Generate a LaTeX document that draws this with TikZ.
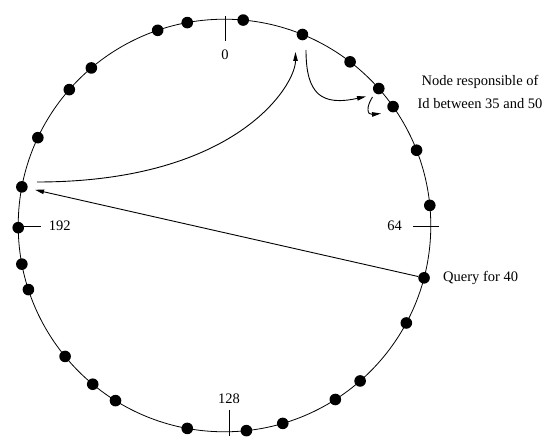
\documentclass[tikz,border=0pt]{standalone}
\usepackage{fontspec}
\setmainfont{Liberation Serif}
\usetikzlibrary{arrows.meta}
\begin{document}
\begin{tikzpicture}[x=1pt,y=-1pt,
  dot/.style={circle,fill=black,inner sep=0pt,minimum size=11.6pt},
  lbl/.style={font=\fontsize{14.5}{17}\selectfont,inner sep=0pt,anchor=base},
  arr/.style={line width=0.9pt,-{Triangle[length=9pt,width=4.5pt]}},
  tickline/.style={line width=1pt}]
\useasboundingbox (0,0) rectangle (551,441);
\coordinate (c) at (224.5,225.5);
\draw[line width=0.8pt] (c) circle[radius=206.3pt];
\foreach \a [count=\i] in {100.4,108.9,84.8,67.8,52.5,41.6,35.2,21.4,5.6,-14.7,-28.2,-48.9,-57.5,-73.6,-83.9,-100.4,-121.9,-129.7,-140.6,-161.9,-169.2,-179.4,169.2,154.8,138.8,130.2}
  \path (c) ++(\a:206.3pt) node[dot] (d\i) {};
% ticks
\draw[tickline] (225,16) -- (225,41);
\draw[tickline] (413,226) -- (439,226);
\draw[tickline] (229,410) -- (229,436);
\draw[tickline] (18,226) -- (41,226);
% tick labels
\node[lbl] (l0) at (225,60) {0};
\node[lbl] (l64) at (394.5,230.5) {64};
\node[lbl] (l128) at (229,403.3) {128};
\node[lbl] (l192) at (59.7,230.5) {192};
% texts
\node[lbl] (t1) at (480,86) {Node responsible of};
\node[lbl] (t2) at (480,108.3) {Id between 35 and 50};
\node[lbl,anchor=base west] (q) at (443,281.7) {Query for 40};
% arrow coordinates
\coordinate (a2s) at (37,182);
\coordinate (a2e) at (295.5,52);
\coordinate (a3s) at (306,50);
\coordinate (a3e) at (366,96.5);
\coordinate (a4s) at (372.5,97);
\coordinate (a4e) at (381,113.5);
% arrows
\draw[arr,shorten >=7.5pt] (d10) -- (d23);
\draw[arr] (a2s) .. controls (237,182) and (295.5,85) .. (a2e);
\draw[arr] (a3s) .. controls (306,95) and (322,106) .. (a3e);
\draw[arr] (a4s) .. controls (366,107) and (367,115) .. (a4e);
\end{tikzpicture}
\end{document}
